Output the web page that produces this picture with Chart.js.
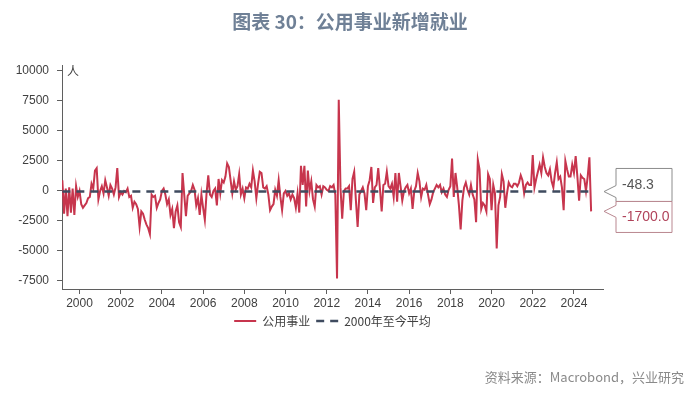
<!DOCTYPE html>
<html lang="zh">
<head>
<meta charset="utf-8">
<title>图表 30：公用事业新增就业</title>
<script src="https://cdn.jsdelivr.net/npm/chart.js@4.4.1/dist/chart.umd.min.js"></script>
<style>
  html, body { margin: 0; padding: 0; background: #fff; }
  #wrap { width: 700px; height: 395px; }
</style>
</head>
<body>
<div id="wrap"><canvas id="chart" width="700" height="395"></canvas></div>
<script>
// 公用事业新增就业（人，月度），1999-03 至 2024-11
const startYear = 1999;
const startMonth = 3;
const utilityJobs = [
    // 1999 (3月起)
    900, -1900, 200, -2100, 300, -1800, 200, -2000, 400, -500,
    // 2000
    0, -1100, -1400, -1200, -1000, -600, -500, 600, 200, 1700, 1900, -700,
    // 2001
    0, 400, -200, 900, 300, -400, 500, 200, -300, 300, 1900, -500,
    // 2002
    -100, -300, 0, -100, 200, -500, -400, -1400, -900, -1100, -1500, -3000,
    // 2003
    -1700, -1900, -2400, -2800, -3100, -3600, -300, -500, -400, -1400, -1000, -700,
    // 2004
    0, 200, -300, -1100, -700, -2000, -1500, -3100, -1700, -1200, -2600, -3000,
    // 2005
    1500, -300, -2100, -400, -200, 0, 500, 100, -1200, -600, -2000, -300,
    // 2006
    -1400, -2400, -200, 1300, -300, -500, 0, 200, -1200, 1000, -200, 900,
    // 2007
    700, 1200, 2300, 2000, 900, -200, 800, 100, 400, 1400, -300, 200,
    // 2008
    -600, 300, 200, 600, 300, 1700, 800, -600, 600, 1600, 1500, 300,
    // 2009
    200, 400, -300, -1600, -1300, -1100, 100, -400, 900, -500, -1600, -200,
    // 2010
    0, -400, -200, -700, -300, -600, -1400, -200, -1800, 2100, 500, 2100,
    // 2011
    -1300, 1700, 0, 800, -700, -1300, 500, 300, 400, -300, 400, 300,
    // 2012
    100, 0, 400, 300, 500, -300, -7300, 7600, 300, -2300, 0, 200,
    // 2013
    200, 400, -1600, 1000, 1600, -800, -3000, -300, 0, 300, -200, -1600,
    // 2014
    400, 900, 2000, -1000, 300, 500, 1900, 200, -1700, 500, 600, 1600,
    // 2015
    400, 200, 600, -500, 1500, -900, 1500, 400, -800, 0, 300, 500,
    // 2016
    -200, 200, -1500, 0, 400, 1500, 800, -500, 200, 100, 500, -300,
    // 2017
    -1100, -700, -100, 200, 500, 300, 500, -100, 200, -300, -500, 100,
    // 2018
    400, 2700, -500, 1500, 300, -1200, -3200, -800, 300, 700, 100, -300,
    // 2019
    500, -300, -700, -2600, 2600, 1800, -1500, -1000, -1200, -1700, 1400, 1000,
    // 2020
    -1600, 500, -200, -4800, -1200, -500, 1400, 800, -1400, -200, 700, 400,
    // 2021
    300, 600, 600, 400, 700, 1300, 900, -200, 500, 700, 500, 500,
    // 2022
    3000, 300, 1000, 1600, 2200, 1500, 2800, 2000, 1500, 1300, 1800, 800,
    // 2023
    300, 1500, 2400, 1000, 1200, 300, -1600, 2500, 1800, 1200, 1200, 2200,
    // 2024
    1500, 2900, 1200, -800, 1300, 1100, 1000, 0, 1200, 2800, -1700
];
const avgSince2000 = -48.3;
const latestValue = -1700.0;
const yearTicks = [2000, 2002, 2004, 2006, 2008, 2010, 2012, 2014, 2016, 2018, 2020, 2022, 2024];
const valueTicks = [-7500, -5000, -2500, 0, 2500, 5000, 7500, 10000];

// month -> decimal year
const xOf = i => startYear + (startMonth - 1 + i) / 12;
const seriesPoints = utilityJobs.map((v, i) => ({ x: xOf(i), y: v }));
const avgPoints = [
    { x: xOf(0), y: avgSince2000 },
    { x: xOf(utilityJobs.length - 1), y: avgSince2000 }
];

const RED = '#c7354d';
const NAVY = '#3f4b5f';
const AXIS = '#5f5f5f';
const TEXT = '#404040';
const CJK = '"Noto Sans CJK SC", "Noto Sans", sans-serif';

// title, unit, source and the two value callouts
const decorations = {
    id: 'decorations',
    afterDraw(chart) {
        const { ctx, chartArea, scales } = chart;
        ctx.save();

        ctx.fillStyle = '#6f8096';
        ctx.font = 'bold 19px ' + CJK;
        ctx.textAlign = 'center';
        ctx.textBaseline = 'middle';
        ctx.fillText('图表 30：公用事业新增就业', 350, 22);

        ctx.fillStyle = TEXT;
        ctx.font = '12px ' + CJK;
        ctx.textAlign = 'left';
        ctx.fillText('人', chartArea.left + 5, scales.y.getPixelForValue(10000));

        ctx.fillStyle = '#8a8a8a';
        ctx.font = '13px ' + CJK;
        ctx.textAlign = 'right';
        ctx.fillText('资料来源：Macrobond，兴业研究', 684, 377);

        const yAvg = scales.y.getPixelForValue(avgSince2000);
        const yLast = scales.y.getPixelForValue(latestValue);
        const mid = (yAvg + yLast) / 2;
        const tipX = chartArea.right + 1;
        const boxL = tipX + 12;
        const boxR = 672;
        callout(ctx, tipX, boxL, boxR, mid - 33, mid, yAvg, '#8c8c8c', '#555555', avgSince2000.toFixed(1));
        callout(ctx, tipX, boxL, boxR, mid, mid + 31, yLast, '#b98790', '#b0435a', latestValue.toFixed(1));
        ctx.restore();
    }
};

function callout(ctx, tipX, boxL, boxR, top, bottom, tipY, stroke, color, label) {
    ctx.beginPath();
    ctx.moveTo(boxL, top);
    ctx.lineTo(boxR, top);
    ctx.lineTo(boxR, bottom);
    ctx.lineTo(boxL, bottom);
    ctx.lineTo(boxL, Math.min(bottom, tipY + 6));
    ctx.lineTo(tipX, tipY);
    ctx.lineTo(boxL, Math.max(top, tipY - 6));
    ctx.closePath();
    ctx.fillStyle = '#ffffff';
    ctx.fill();
    ctx.strokeStyle = stroke;
    ctx.lineWidth = 1;
    ctx.stroke();
    ctx.fillStyle = color;
    ctx.font = '14px "Liberation Sans", sans-serif';
    ctx.textAlign = 'left';
    ctx.textBaseline = 'middle';
    ctx.fillText(label, boxL + 6, (top + bottom) / 2);
}

// legend samples take the line style of each dataset (dash included)
function legendLabels(chart) {
    return Chart.defaults.plugins.legend.labels.generateLabels(chart).map(item => {
        const ds = chart.data.datasets[item.datasetIndex];
        item.lineDash = ds.borderDash || [];
        item.lineWidth = ds.borderWidth;
        item.strokeStyle = ds.borderColor;
        return item;
    });
}

const ctx = document.getElementById('chart').getContext('2d');
new Chart(ctx, {
    type: 'line',
    data: {
        datasets: [{
            label: '公用事业',
            data: seriesPoints,
            borderColor: RED,
            backgroundColor: RED,
            borderWidth: 2,
            pointRadius: 0,
            tension: 0,
            order: 1
        }, {
            label: '2000年至今平均',
            data: avgPoints,
            borderColor: NAVY,
            backgroundColor: NAVY,
            borderWidth: 2.5,
            borderDash: [8, 6],
            pointRadius: 0,
            order: 0
        }]
    },
    options: {
        responsive: false,
        animation: false,
        devicePixelRatio: 1,
        layout: { padding: { top: 65, right: 97, bottom: 58, left: 0 } },
        plugins: {
            tooltip: { enabled: false },
            legend: {
                position: 'bottom',
                fullSize: false,
                labels: {
                    usePointStyle: true,
                    pointStyle: 'line',
                    pointStyleWidth: 22,
                    padding: 6,
                    color: TEXT,
                    font: { size: 12, family: CJK },
                    generateLabels: legendLabels,
                    sort: (a, b) => a.datasetIndex - b.datasetIndex
                }
            }
        },
        scales: {
            x: {
                type: 'linear',
                min: 1999.15,
                max: 2025.41,
                afterBuildTicks: axis => { axis.ticks = yearTicks.map(v => ({ value: v })); },
                afterFit: axis => { axis.height = 20; },
                grid: { drawOnChartArea: false, drawTicks: true, tickLength: 5, color: AXIS },
                border: { color: AXIS, width: 1 },
                ticks: {
                    color: TEXT,
                    padding: 2,
                    maxRotation: 0,
                    font: { size: 12, family: '"Liberation Sans", sans-serif' },
                    callback: v => String(v)
                }
            },
            y: {
                min: -8170,
                max: 10500,
                afterBuildTicks: axis => { axis.ticks = valueTicks.map(v => ({ value: v })); },
                afterFit: axis => { axis.width = 62; },
                grid: { drawOnChartArea: false, drawTicks: true, tickLength: 5, color: AXIS },
                border: { color: AXIS, width: 1 },
                ticks: {
                    color: TEXT,
                    padding: 8,
                    font: { size: 12, family: '"Liberation Sans", sans-serif' },
                    callback: v => String(v)
                }
            }
        }
    },
    plugins: [decorations]
});
</script>
</body>
</html>
